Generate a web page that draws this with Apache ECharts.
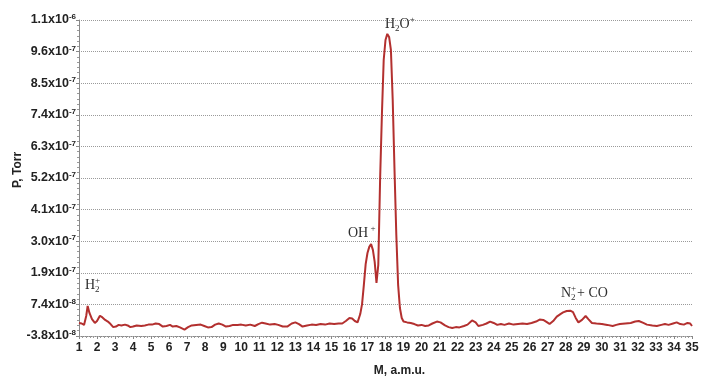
<!DOCTYPE html>
<html><head><meta charset="utf-8">
<script src="https://cdn.jsdelivr.net/npm/echarts@6/dist/echarts.min.js"></script>
<style>html,body{margin:0;padding:0;background:#fff}#c{width:726px;height:388px}</style>
</head><body><div id="c"></div>
<script>
// Mass (a.m.u.)
const mass = [
 1.00,1.15,1.28,1.40,1.48,1.58,1.72,1.88,2.00,2.16,2.30,2.45,2.60,2.75,2.90,3.05,3.20,3.35,3.55,3.70,
 3.85,4.00,4.20,4.45,4.65,4.85,5.05,5.25,5.45,5.65,5.85,6.05,6.20,6.40,6.60,6.85,7.05,7.25,7.50,7.75,
 7.95,8.15,8.35,8.55,8.75,8.95,9.15,9.35,9.55,9.80,10.0,10.25,10.5,10.75,10.95,11.15,11.35,11.6,11.85,12.05,
 12.3,12.55,12.8,13.0,13.2,13.4,13.65,13.9,14.15,14.4,14.65,14.9,15.15,15.4,15.6,15.8,16.0,16.15,16.3,16.45,
 16.6,16.7,16.8,16.9,17.0,17.1,17.2,17.3,17.4,17.5,17.6,17.7,17.8,17.9,18.0,18.1,18.2,18.3,18.4,18.5,
 18.6,18.7,18.8,18.9,19.0,19.2,19.4,19.6,19.8,20.0,20.2,20.4,20.6,20.85,21.05,21.3,21.5,21.7,21.9,22.1,
 22.35,22.55,22.8,23.0,23.15,23.4,23.6,23.8,24.0,24.2,24.4,24.6,24.85,25.1,25.35,25.6,25.85,26.1,26.35,26.55,
 26.75,26.95,27.1,27.3,27.5,27.7,27.85,28.05,28.25,28.4,28.55,28.7,28.9,29.1,29.25,29.45,29.7,30.0,30.3,30.6,
 30.8,31.0,31.3,31.6,31.85,32.05,32.3,32.5,32.8,33.05,33.3,33.5,33.7,33.95,34.15,34.35,34.55,34.75,34.9,35.0
];
// Pressure in units of 1e-8 Torr
const pressure = [
 0.9,0.7,0.2,3.4,7.0,4.5,2.3,0.9,1.6,3.5,2.9,2.0,1.4,0.5,-0.6,-0.4,0.2,0.0,0.3,0.0,
 -0.6,-0.4,0.0,-0.2,0.0,0.3,0.3,0.7,0.5,-0.4,-0.2,0.2,-0.4,-0.2,-0.7,-1.5,-0.6,0.0,0.2,0.3,
 -0.2,-0.7,-0.6,0.3,0.7,0.3,-0.4,-0.2,0.2,0.2,0.3,0.0,0.3,-0.2,0.5,1.0,0.7,0.3,0.5,0.2,
 -0.4,-0.4,0.7,1.1,0.5,-0.4,0.0,0.3,0.2,0.5,0.3,0.7,0.5,0.7,0.7,1.6,2.7,2.5,1.6,1.1,
 4.1,7.7,14.6,22.1,26.1,28.3,29.3,27.2,22.9,15.3,21.8,52.4,75.8,95.6,102.8,105.0,103.9,99.2,81.2,56.0,
 32.6,14.6,6.3,2.7,1.4,1.1,0.9,0.5,0.0,0.2,-0.2,0.0,0.7,1.4,1.1,0.0,-0.6,-0.9,-0.6,-0.7,
 -0.2,0.3,1.8,1.1,-0.2,0.2,0.7,1.4,0.9,0.2,0.5,0.2,0.7,0.3,0.5,0.7,0.5,0.9,1.4,2.1,
 2.0,1.2,0.5,1.6,3.2,4.1,4.7,5.2,5.3,4.8,2.7,1.1,2.0,3.4,2.3,0.9,0.7,0.5,0.2,-0.2,
 0.2,0.5,0.7,0.9,1.4,1.6,0.9,0.3,0.0,-0.2,0.2,0.5,0.2,0.7,1.1,0.5,0.3,0.9,0.7,-0.2
];
// Y tick labels (mantissa x 10^exponent), evenly spaced on the axis
const yTickMantissa = ['-3.8','7.4','1.9','3.0','4.1','5.2','6.3','7.4','8.5','9.6','1.1'];
const yTickExponent = ['-8','-8','-7','-7','-7','-7','-7','-7','-7','-7','-6'];
const yAxisMin = -3.8;      // 1e-8 Torr
const yAxisStep = 11.38;    // 1e-8 Torr per tick
// Peak annotations: anchor (left, baseline) in data coords
const annotations = [
  {m: 17.97, p: 106.7, parts: [['H','n'],['2','sub'],['O','n'],['+','sup']]},
  {m: 15.92, p: 31.5, parts: [['OH','n'],[' +','sup']]},
  {m: 1.33, p: 12.8, parts: [['H','n'],['2','+']]},
  {m: 27.73, p: 9.9, parts: [['N','n'],['2','+'],['+ CO','n']]}
];

const toIdx = p => (p - yAxisMin) / yAxisStep;
const seriesData = mass.map((m, i) => [m, toIdx(pressure[i])]);

const chart = echarts.init(document.getElementById('c'));
const labelFont = '"Liberation Sans", Arial, sans-serif';
chart.setOption({
  animation: false,
  backgroundColor: '#fff',
  grid: {left: 79, right: 34, top: 20, bottom: 52, containLabel: false, outerBoundsMode: 'none'},
  xAxis: {
    type: 'value', min: 1, max: 35, interval: 1,
    name: 'M, a.m.u.', nameLocation: 'middle', nameGap: 29,
    nameTextStyle: {fontFamily: labelFont, fontWeight: 'bold', fontSize: 12, color: '#222', padding: [0,0,0,28]},
    axisLine: {show: true, lineStyle: {color: '#888', type: 'dotted', width: 1}},
    axisTick: {show: true, length: 3, lineStyle: {color: '#888'}},
    minorTick: {show: true, splitNumber: 5, length: 2, lineStyle: {color: '#999'}},
    axisLabel: {fontFamily: labelFont, fontWeight: 'bold', fontSize: 12, color: '#222', margin: 6},
    splitLine: {show: false}
  },
  yAxis: {
    type: 'value', min: 0, max: 10, interval: 1,
    name: 'P, Torr', nameLocation: 'middle', nameGap: 55, nameRotate: 90, nameMoveOverlap: false,
    nameTextStyle: {fontFamily: labelFont, fontWeight: 'bold', fontSize: 12, color: '#222', padding: [0,0,0,16]},
    axisLine: {show: true, lineStyle: {color: '#888', width: 1}},
    axisTick: {show: true, length: 3, lineStyle: {color: '#888'}},
    minorTick: {show: true, splitNumber: 6, length: 2, lineStyle: {color: '#999'}},
    axisLabel: {
      margin: 3,
      formatter: v => {
        const i = Math.round(v);
        return '{m|' + yTickMantissa[i] + 'x10}{e|' + yTickExponent[i] + '}';
      },
      rich: {
        m: {fontFamily: labelFont, fontWeight: 'bold', fontSize: 12.5, color: '#222', lineHeight: 14},
        e: {fontFamily: labelFont, fontWeight: 'bold', fontSize: 8, color: '#222', lineHeight: 14, verticalAlign: 'top', padding: [0,0,6,0]}
      }
    },
    splitLine: {show: true, lineStyle: {color: '#9a9a9a', type: 'dotted', width: 1}}
  },
  series: [{
    type: 'line', data: seriesData, showSymbol: false, symbol: 'none',
    lineStyle: {color: '#b3302f', width: 2}, smooth: false
  }]
});

// Annotations positioned through the chart's scales
const ctx = document.createElement('canvas').getContext('2d');
const serif = '"Liberation Serif", "Times New Roman", serif';
function tw(t, size) { ctx.font = size + 'px ' + serif; return ctx.measureText(t).width; }
const graphics = [];
const big = 14, small = 9, col = '#2e2e2e';
annotations.forEach(a => {
  const pt = chart.convertToPixel({gridIndex: 0}, [a.m, toIdx(a.p)]);
  let x = pt[0]; const base = pt[1];
  a.parts.forEach(([t, kind]) => {
    // y = glyph baseline; draw with middle alignment (center ~ baseline - 0.35em)
    const mk = (txt, size, yBase) => graphics.push({
      type: 'text', x: x, y: yBase - 0.35 * size,
      style: {text: txt, font: size + 'px ' + serif, fill: col, verticalAlign: 'middle', align: 'left'}
    });
    if (kind === 'n') { mk(t, big, base); x += tw(t, big); }
    else if (kind === 'sub') { mk(t, small, base + 3); x += tw(t, small); }
    else if (kind === 'sup') { mk(t, small, base - 6); x += tw(t, small); }
    else if (kind === '+') { mk('+', small, base - 6); mk(t, small, base + 3); x += Math.max(tw('+', small), tw(t, small)) + 1; }
  });
});
chart.setOption({graphic: graphics});
</script></body></html>
